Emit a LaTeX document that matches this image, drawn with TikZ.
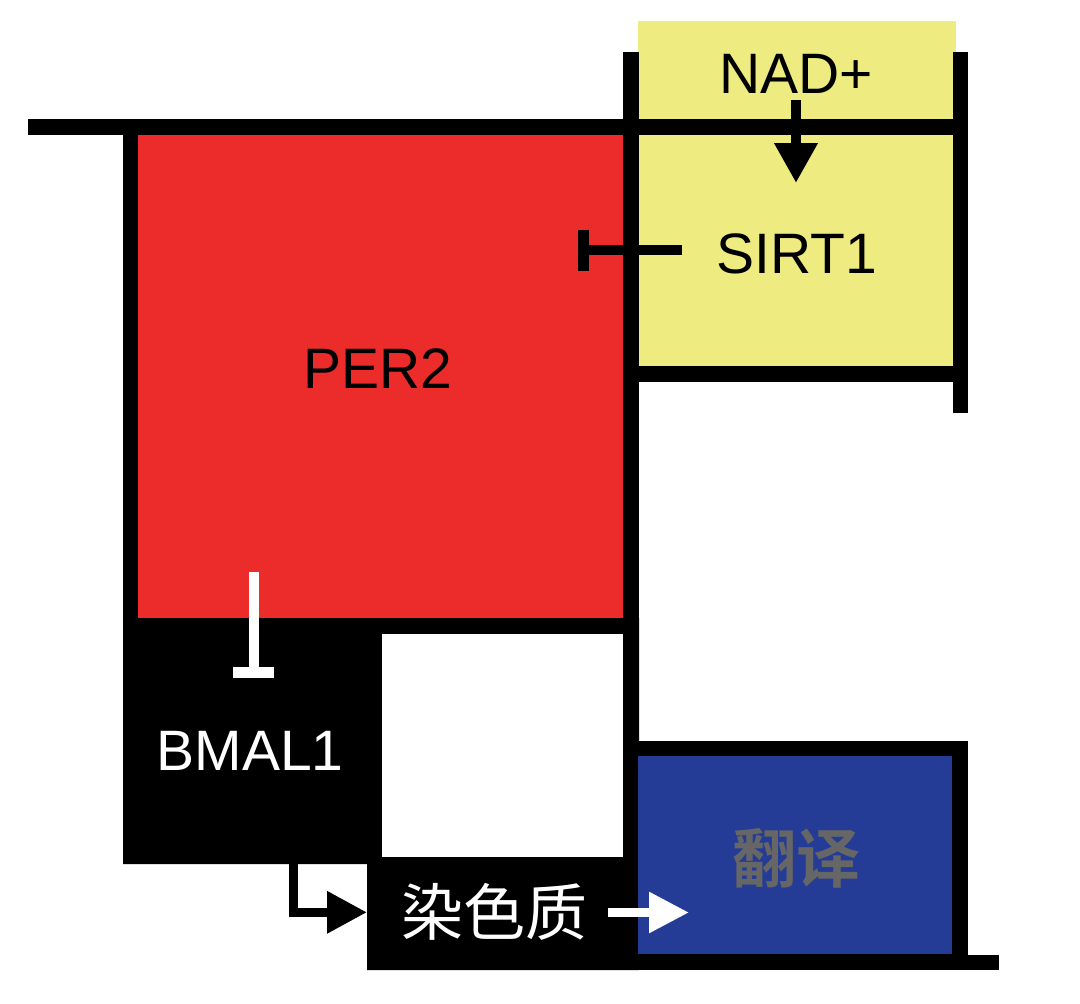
\documentclass[tikz,border=0pt]{standalone}
\usepackage{fontspec}
\setmainfont{Liberation Sans}
\newfontfamily\cjk{Noto Sans CJK SC}
\newfontfamily\cjkbold{Noto Sans CJK SC Bold}
\usetikzlibrary{arrows.meta}
\definecolor{pred}{RGB}{236,44,42}
\definecolor{pyellow}{RGB}{238,236,128}
\definecolor{pblue}{RGB}{36,60,150}
\definecolor{pgray}{RGB}{102,102,102}
\tikzset{
  lbl/.style={inner sep=0pt, anchor=base, font=\fontsize{57pt}{60pt}\selectfont},
  cjklbl/.style={inner sep=0pt, anchor=center, font=\fontsize{62pt}{66pt}\selectfont\cjk},
  actarrow/.style={line width=10pt, -{Triangle[length=40pt,width=41pt]}},
  inhib/.style={line width=10pt, -{Rectangle[length=11pt,width=41pt]}},
}
\begin{document}
\begin{tikzpicture}[x=1pt,y=-1pt]
\useasboundingbox (0,0) rectangle (1080,1004);
\fill[white] (0,0) rectangle (1080,1004);
% colour fields
\fill[pyellow] (638,21) rectangle (956,366);
\fill[pred] (138,135) rectangle (623,618);
\fill[black] (123,618) -- (639,618) -- (639,970) -- (367,970) -- (367,864) -- (123,864) -- cycle;
\fill[white] (382,634) rectangle (623,857);
\fill[black] (623,741) rectangle (968,970);
\fill[pblue] (638,756) rectangle (952,954);
\fill[black] (952,955) rectangle (999,970);
% grid lines
\fill[black] (28,119) rectangle (968,135);
\fill[black] (123,119) rectangle (138,618);
\fill[black] (623,52) rectangle (639,741);
\fill[black] (953,52) rectangle (968,413);
\fill[black] (623,366) rectangle (968,382);
% labels
\node[lbl] (nad) at (796,93) {NAD+};
\node[lbl] (sirt) at (797,273) {SIRT1};
\node[lbl] (per) at (378,388) {PER2};
\node[lbl, text=white] (bmal) at (250,770) {BMAL1};
\node[cjklbl, text=white] (chrom) at (494,912) {染色质};
\node[cjklbl, text=pgray, font=\fontsize{64pt}{68pt}\selectfont\cjkbold] (trans) at (796,858) {翻译};
% connector ends
\coordinate (nadout) at (796,100);
\coordinate (sirtin) at (796,183);
\coordinate (sirtout) at (682,250);
\coordinate (perin) at (578,250);
\coordinate (perout) at (253.5,572);
\coordinate (bmalin) at (253.5,678);
\coordinate (bmalout) at (293.7,864);
\coordinate (chromin) at (367,912.3);
\coordinate (chromout) at (608,912.5);
\coordinate (transin) at (689,912.5);
% connectors
\draw[actarrow] (nadout) -- (sirtin);
\draw[inhib] (sirtout) -- (perin);
\draw[inhib, white] (perout) -- (bmalin);
\draw[line width=9.5pt, line join=miter, -{Triangle[length=40pt,width=40pt]}] (bmalout) |- (chromin);
\draw[white, line width=9pt, -{Triangle[length=40pt,width=39pt]}] (chromout) -- (transin);
\end{tikzpicture}
\end{document}
